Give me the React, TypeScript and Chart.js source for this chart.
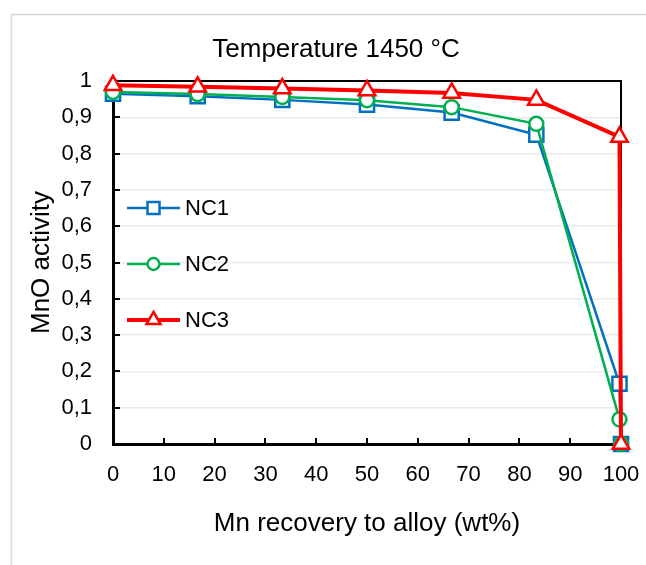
import React, { useEffect, useRef } from 'react';
import { Chart, registerables } from 'chart.js';

Chart.register(...registerables);

// ---- data ----
const recovery = [0, 16.67, 33.33, 50, 66.67, 83.33, 99.7, 100];
const nc1 = [0.965, 0.958, 0.948, 0.935, 0.913, 0.852, 0.166, 0];
const nc2 = [0.97, 0.964, 0.956, 0.947, 0.928, 0.882, 0.068, 0];
const nc3 = [0.988, 0.984, 0.979, 0.974, 0.967, 0.948, 0.846, 0];
const seriesNames = ['NC1', 'NC2', 'NC3'];
const seriesColors = ['#0070C0', '#00B050', '#FF0000'];
const chartTitle = 'Temperature 1450 °C';
const xTitle = 'Mn recovery to alloy (wt%)';
const yTitle = 'MnO activity';
const xTickValues = [0, 10, 20, 30, 40, 50, 60, 70, 80, 90, 100];
const yTickValues = [0, 0.1, 0.2, 0.3, 0.4, 0.5, 0.6, 0.7, 0.8, 0.9, 1];

const FONT = '"Liberation Sans", Arial, sans-serif';

const styles = [
  { pointStyle: 'rect', radius: 10, lineWidth: 2.5 },
  { pointStyle: 'circle', radius: 7, lineWidth: 2.5 },
  { pointStyle: 'triangle', radius: 9.5, lineWidth: 4 },
];

function drawMarker(ctx: CanvasRenderingContext2D, style: string, x: number, y: number, r: number) {
  ctx.beginPath();
  if (style === 'rect') {
    const s = Math.SQRT1_2 * r;
    ctx.rect(x - s, y - s, 2 * s, 2 * s);
  } else if (style === 'circle') {
    ctx.arc(x, y, r, 0, Math.PI * 2);
  } else {
    let rad = 0;
    ctx.moveTo(x + Math.sin(rad) * r, y - Math.cos(rad) * r);
    rad += (2 * Math.PI) / 3;
    ctx.lineTo(x + Math.sin(rad) * r, y - Math.cos(rad) * r);
    rad += (2 * Math.PI) / 3;
    ctx.lineTo(x + Math.sin(rad) * r, y - Math.cos(rad) * r);
    ctx.closePath();
  }
  ctx.fill();
  ctx.stroke();
}

const framePlugin = {
  id: 'frame',
  beforeDraw(chart: any) {
    const ctx = chart.ctx;
    ctx.save();
    ctx.fillStyle = '#ffffff';
    ctx.fillRect(0, 0, chart.width, chart.height);
    ctx.strokeStyle = '#d9d9d9';
    ctx.lineWidth = 1.5;
    ctx.strokeRect(11.5, 14.5, 1000, 1000);
    // chart title
    ctx.fillStyle = '#000000';
    ctx.font = `26px ${FONT}`;
    ctx.textAlign = 'center';
    ctx.textBaseline = 'middle';
    ctx.fillText(chartTitle, 336, 50);
    ctx.restore();
  },
  beforeDatasetsDraw(chart: any) {
    const ctx = chart.ctx;
    const { left, right, top, bottom } = chart.chartArea;
    const xs = chart.scales.x;
    const ys = chart.scales.y;
    ctx.save();
    ctx.strokeStyle = '#000000';
    // top and right frame
    ctx.lineWidth = 2;
    ctx.beginPath();
    ctx.moveTo(left, top);
    ctx.lineTo(right, top);
    ctx.lineTo(right, bottom);
    ctx.stroke();
    // inner ticks
    ctx.lineWidth = 2;
    ctx.beginPath();
    yTickValues.forEach((v) => {
      const py = Math.round(ys.getPixelForValue(v));
      ctx.moveTo(left, py);
      ctx.lineTo(left + 7, py);
    });
    xTickValues.forEach((v) => {
      const px = Math.round(xs.getPixelForValue(v));
      ctx.moveTo(px, bottom);
      ctx.lineTo(px, bottom - 6);
    });
    ctx.stroke();
    ctx.restore();
  },
  afterDraw(chart: any) {
    const ctx = chart.ctx;
    const legendY = [208, 264, 320];
    ctx.save();
    seriesNames.forEach((name, i) => {
      const y = legendY[i];
      const st = styles[i];
      ctx.strokeStyle = seriesColors[i];
      ctx.lineWidth = st.lineWidth;
      ctx.beginPath();
      ctx.moveTo(127, y);
      ctx.lineTo(180, y);
      ctx.stroke();
      ctx.fillStyle = '#ffffff';
      ctx.lineWidth = 2.5;
      drawMarker(ctx, st.pointStyle, 153.5, y, st.radius * 0.85);
      ctx.fillStyle = '#000000';
      ctx.font = `22px ${FONT}`;
      ctx.textBaseline = 'middle';
      ctx.textAlign = 'left';
      ctx.fillText(name, 185, y + 1);
    });
    ctx.restore();
  },
};

export default function App() {
  const canvasRef = useRef<HTMLCanvasElement | null>(null);

  useEffect(() => {
    const canvas = canvasRef.current;
    if (!canvas) return;
    const seriesData = [nc1, nc2, nc3];
    const chart = new Chart(canvas, {
      type: 'line',
      data: {
        datasets: seriesData.map((vals, i) => ({
          label: seriesNames[i],
          data: recovery.map((x, j) => ({ x, y: vals[j] })),
          borderColor: seriesColors[i],
          backgroundColor: '#ffffff',
          borderWidth: styles[i].lineWidth,
          pointStyle: styles[i].pointStyle as any,
          pointRadius: styles[i].radius,
          pointHoverRadius: styles[i].radius,
          pointBorderWidth: 2.5,
          pointBackgroundColor: '#ffffff',
          pointBorderColor: seriesColors[i],
          tension: 0,
          fill: false,
          clip: false as any,
          order: 3 - i,
        })),
      },
      options: {
        responsive: false,
        animation: false,
        devicePixelRatio: 1,
        layout: { padding: { left: 0, right: 25, top: 81, bottom: 0 } },
        plugins: {
          legend: { display: false },
          tooltip: { enabled: false },
          title: { display: false },
        },
        scales: {
          x: {
            type: 'linear',
            min: 0,
            max: 100,
            afterFit: (scale: any) => {
              scale.height = 121;
              scale.paddingLeft = 0;
              scale.paddingRight = 0;
            },
            ticks: {
              stepSize: 10,
              color: '#000000',
              font: { family: FONT, size: 22 },
              padding: 18,
              maxRotation: 0,
              autoSkip: false,
            },
            grid: { display: false, drawTicks: false },
            border: { display: true, color: '#000000', width: 3 },
            title: {
              display: true,
              text: xTitle,
              color: '#000000',
              font: { family: FONT, size: 26 },
              padding: 26,
            },
          },
          y: {
            type: 'linear',
            min: 0,
            max: 1,
            afterFit: (scale: any) => {
              scale.width = 113;
              scale.paddingTop = 0;
              scale.paddingBottom = 0;
            },
            ticks: {
              stepSize: 0.1,
              color: '#000000',
              font: { family: FONT, size: 22 },
              padding: 21,
              autoSkip: false,
              callback: (v: any) => {
                const n = Math.round(Number(v) * 10) / 10;
                if (n === 0) return '0';
                if (n === 1) return '1';
                return n.toFixed(1).replace('.', ',');
              },
            },
            grid: { display: true, drawTicks: false, color: '#ebebeb', lineWidth: 1.5 },
            border: { display: true, color: '#000000', width: 3 },
            title: {
              display: true,
              text: yTitle,
              color: '#000000',
              font: { family: FONT, size: 26 },
              padding: 26,
            },
          },
        },
      },
      plugins: [framePlugin],
    });
    return () => chart.destroy();
  }, []);

  return (
    <div style={{ position: 'fixed', left: 0, top: 0, width: 646, height: 565, background: '#fff' }}>
      <canvas ref={canvasRef} width={646} height={565} style={{ display: 'block', width: 646, height: 565 }} />
    </div>
  );
}
